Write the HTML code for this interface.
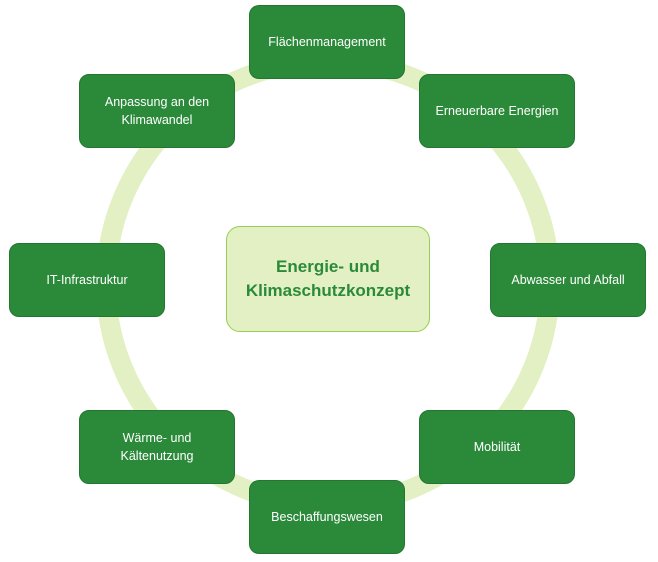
<!DOCTYPE html>
<html><head><meta charset="utf-8"><style>
body{margin:0;width:658px;height:562px;background:#fff;position:relative;overflow:hidden;font-family:"Liberation Sans",sans-serif}
.b{position:absolute;width:156px;height:74px;background:#2b8a3a;border-radius:10px;color:#fff;font-size:12.5px;display:flex;align-items:center;justify-content:center;text-align:center;line-height:18px;box-sizing:border-box;border:1px solid #23752f}
.c{position:absolute;left:226px;top:226px;width:204px;height:106px;background:#e3f0c4;border:1px solid #92d050;border-radius:14px;box-sizing:border-box;display:flex;align-items:center;justify-content:center;text-align:center;color:#2b8a3a;font-weight:bold;font-size:17px;line-height:24px}
</style></head><body>
<svg width="658" height="562" style="position:absolute;left:0;top:0"><circle cx="328" cy="283" r="222" fill="none" stroke="#e3f0c4" stroke-width="20"/></svg>
<div class="b" style="left:249px;top:5px">Flächenmanagement</div>
<div class="b" style="left:419px;top:74px">Erneuerbare Energien</div>
<div class="b" style="left:490px;top:243px">Abwasser und Abfall</div>
<div class="b" style="left:419px;top:410px">Mobilität</div>
<div class="b" style="left:249px;top:480px">Beschaffungswesen</div>
<div class="b" style="left:79px;top:410px">Wärme- und<br>Kältenutzung</div>
<div class="b" style="left:9px;top:243px">IT-Infrastruktur</div>
<div class="b" style="left:79px;top:74px">Anpassung an den<br>Klimawandel</div>
<div class="c">Energie- und<br>Klimaschutzkonzept</div>
</body></html>
